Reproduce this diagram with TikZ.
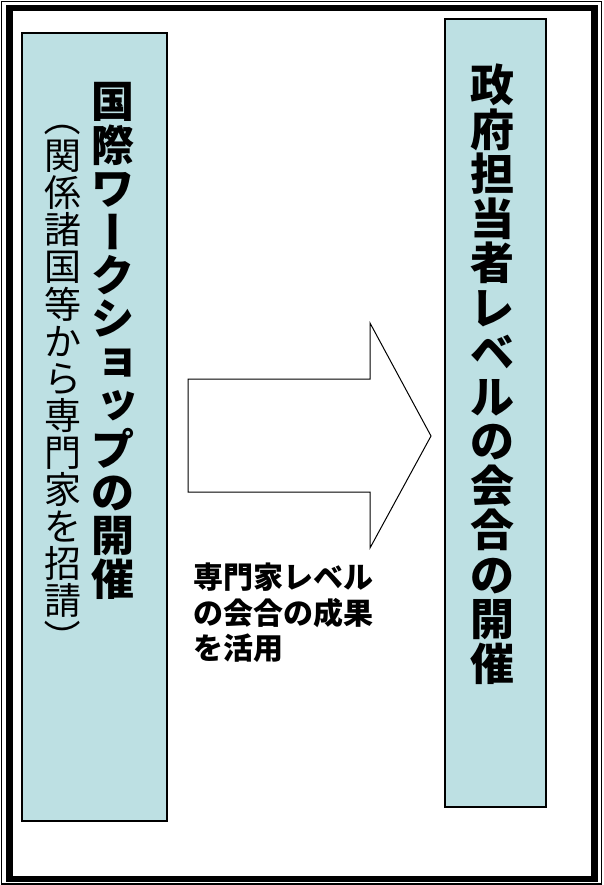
\documentclass[tikz,border=0pt]{standalone}
\usepackage{fontspec}
\setmainfont{Noto Sans CJK JP}
\definecolor{panelblue}{RGB}{189,224,227}

\tikzset{
  panel/.style={draw,line width=2.2pt,fill=panelblue,inner sep=0pt},
  % one em square per glyph, for vertical writing (43pt, 37pt, 44pt)
  titlechar/.style={inner sep=0pt,text height=37.84pt,text depth=5.16pt,font=\bfseries\fontsize{43}{43}\selectfont},
  subchar/.style={inner sep=0pt,text height=32.56pt,text depth=4.44pt,font=\fontsize{37}{37}\selectfont},
  govchar/.style={inner sep=0pt,text height=38.72pt,text depth=5.28pt,font=\bfseries\fontsize{44}{44}\selectfont},
  turn/.style={rotate=-90},
  small/.style={xshift=5pt,yshift=5pt}
}

\begin{document}
\begin{tikzpicture}[x=1pt,y=-1pt]
   \useasboundingbox (0,0) rectangle (603,885);
   % frame
   \draw[line width=1.2pt] (1.5,1.5) rectangle (601.2,884);
   \draw[line width=6.5pt] (9.5,8) rectangle (594.5,879);
   % panels
   \node[panel,minimum width=145pt,minimum height=788pt] (intl) at (94.5,427) {};
   \node[panel,minimum width=101pt,minimum height=788pt] (gov) at (495.5,413) {};
   % vertical texts
   \foreach \ch/\st [count=\i from 0] in {国/,際/,ワ/,ー/turn,ク/,シ/,ョ/small,ッ/small,プ/,の/,開/,催/}
      \node[\st,titlechar] (intltitle-\i) at (113,{101.5+43.4*\i}) {\ch};
   \foreach \ch/\st [count=\i from 0] in {（/turn,関/,係/,諸/,国/,等/,か/,ら/,専/,門/,家/,を/,招/,請/,）/turn}
      \node[\st,subchar] (intlsub-\i) at (62.5,{118.5+37.1*\i}) {\ch};
   \foreach \ch [count=\i from 0] in {政,府,担,当,者,レ,ベ,ル,の,会,合,の,開,催}
      \node[govchar] (govtitle-\i) at (492,{85+44.5*\i}) {\ch};
   % block arrow
   \draw[line width=1pt] (188,379) -- (370,379) -- (370,323) -- (431,436)
      -- (370,548) -- (370,492) -- (188,492) -- cycle;
   \node[anchor=north west,align=left,inner sep=0pt,
         font=\bfseries\fontsize{30}{35.5}\selectfont] (result) at (193,563)
      {専門家レベル\\の会合の成果\\を活用};
\end{tikzpicture}
\end{document}
